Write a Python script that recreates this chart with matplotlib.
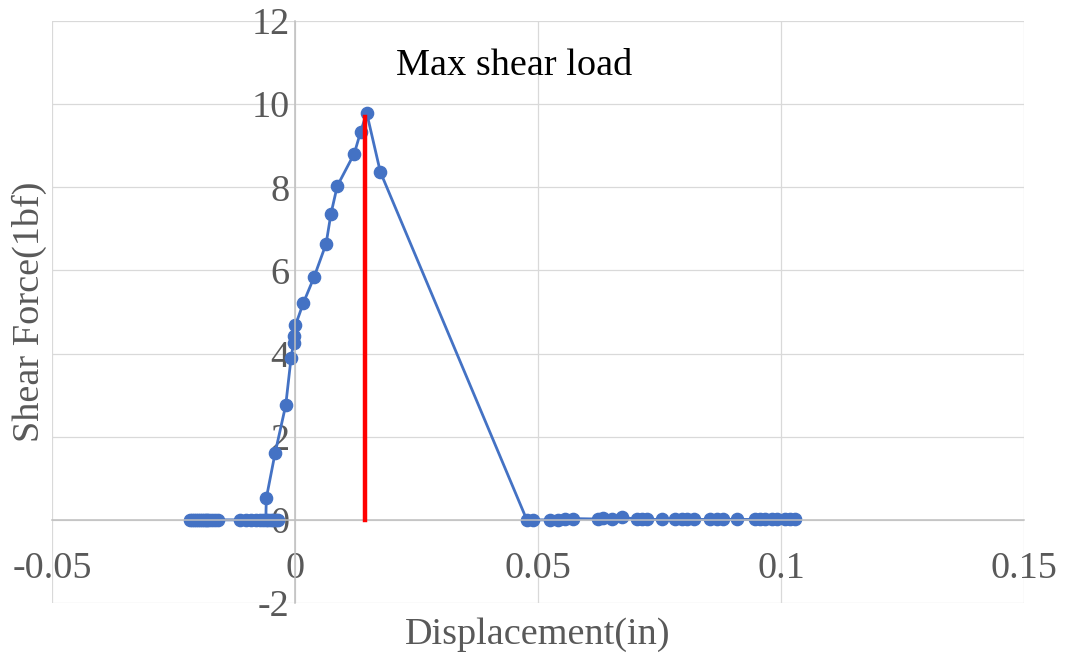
import numpy as np
import matplotlib
matplotlib.use('Agg')
from matplotlib import pyplot as plt

plt.rcParams['font.family'] = ['Liberation Serif', 'DejaVu Serif']
plt.rcParams['axes.unicode_minus'] = False

# data (displacement in, shear force lbf)
preDisp = [-0.0216, -0.0212, -0.0208, -0.0204, -0.0200, -0.0196, -0.0192, -0.0188,
           -0.0184, -0.0180, -0.0176, -0.0171, -0.0165, -0.0158, -0.0113, -0.0100,
           -0.0090, -0.0080, -0.0072, -0.0066, -0.0055, -0.0050, -0.0045, -0.0040,
           -0.0035, -0.0060]
preForce = [0.0] * len(preDisp)

loadDisp = [-0.0059, -0.0041, -0.0019, -0.0008, -0.0003, -0.0002, 0.0001, 0.0017,
            0.0039, 0.0064, 0.0074, 0.0087, 0.0122, 0.0135, 0.01475, 0.01756]
loadForce = [0.52, 1.60, 2.76, 3.90, 4.25, 4.42, 4.68, 5.21,
             5.83, 6.64, 7.36, 8.03, 8.81, 9.33, 9.79, 8.37]

postDisp = [0.0477, 0.0490, 0.0525, 0.0542, 0.0556, 0.0573, 0.0624, 0.0634,
            0.0652, 0.0672, 0.0703, 0.0713, 0.0724, 0.0755, 0.0782, 0.0796,
            0.0806, 0.0820, 0.0854, 0.0868, 0.0881, 0.0909, 0.0947, 0.0957,
            0.0967, 0.0981, 0.0991, 0.1008, 0.1019, 0.1029]
postForce = [0.0, 0.0, 0.0, 0.0, 0.02, 0.03, 0.02, 0.04,
             0.03, 0.06, 0.02, 0.02, 0.01, 0.01, 0.01, 0.01,
             0.01, 0.01, 0.01, 0.01, 0.01, 0.01, 0.01, 0.01,
             0.01, 0.01, 0.01, 0.01, 0.01, 0.01]

maxDisp = 0.0145
maxForce = 9.7

xTicks = [-0.05, 0, 0.05, 0.1, 0.15]
xTickLabels = ['-0.05', '0', '0.05', '0.1', '0.15']
yTicks = [-2, 0, 2, 4, 6, 8, 10, 12]

disp = preDisp + loadDisp + postDisp
force = preForce + loadForce + postForce

fs = 27.5

fig = plt.figure(figsize=(10.65, 6.55), dpi=100)
ax = fig.add_axes([0.0488, 0.0794, 0.9127, 0.8886])

ax.plot(disp, force, color='#4472C4', linewidth=2.0, marker='o', markersize=8.8,
        zorder=2)
ax.plot([maxDisp, maxDisp], [0, maxForce], color='#FF0000', linewidth=3.2, zorder=3)

ax.text(0.045, 10.92, 'Max shear load', fontsize=fs, color='black',
        ha='center', va='center')

ax.set_xlim(-0.05, 0.15)
ax.set_ylim(-2, 12)
ax.set_xticks(xTicks)
ax.set_xticklabels(xTickLabels)
ax.set_yticks(yTicks)

ax.grid(True, color='#D9D9D9', linewidth=0.9)
ax.set_axisbelow(True)

for s in ['top', 'right']:
    ax.spines[s].set_visible(False)
ax.spines['left'].set_position(('data', 0))
ax.spines['bottom'].set_position(('data', 0))
ax.spines['left'].set_color('#BFBFBF')
ax.spines['bottom'].set_color('#BFBFBF')
ax.spines['left'].set_linewidth(1.1)
ax.spines['bottom'].set_linewidth(1.1)

ax.tick_params(axis='both', length=0, labelsize=fs, labelcolor='#595959')
ax.tick_params(axis='x', pad=23)
ax.tick_params(axis='y', pad=4)

ax.set_xlabel('Displacement(in)', fontsize=fs, color='#595959')
ax.set_ylabel('Shear Force(1bf)', fontsize=fs, color='#595959')
ax.xaxis.set_label_coords(0.5, -0.025)
ax.yaxis.set_label_coords(-0.005, 0.5)

fig.savefig('out.png', dpi=100)
